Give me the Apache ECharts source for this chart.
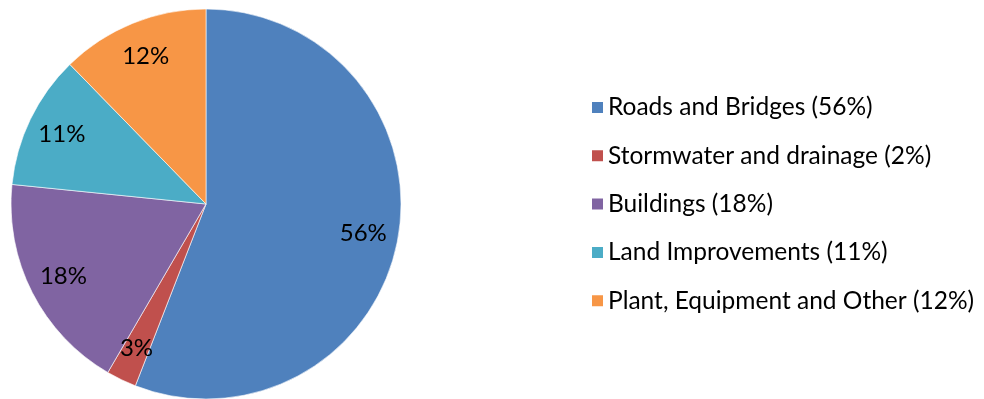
<!DOCTYPE html>
<html>
<head>
<meta charset="utf-8">
<script src="https://cdn.jsdelivr.net/npm/echarts@6/dist/echarts.min.js"></script>
<style>
  html, body { margin: 0; padding: 0; background: #fff; }
  #chart { width: 984px; height: 399px; }
</style>
</head>
<body>
<div id="chart"></div>
<script>
// Asset categories (legend text) and their share of total value
const categories = [
  'Roads and Bridges (56%)',
  'Stormwater and drainage (2%)',
  'Buildings (18%)',
  'Land Improvements (11%)',
  'Plant, Equipment and Other (12%)'
];
const shares = [55.9, 2.5, 18.2, 11.1, 12.3];
const colors = ['#4F81BD', '#C0504D', '#8064A2', '#4BACC6', '#F79646'];

const FONT = 'Lato, "Open Sans", sans-serif';
const center = [206, 204];
const outerR = 195;

const chart = echarts.init(document.getElementById('chart'), null, { renderer: 'canvas' });

chart.setOption({
  animation: false,
  color: colors,
  legend: {
    orient: 'vertical',
    left: 585,
    top: 90,
    data: categories,
    icon: 'rect',
    itemWidth: 13,
    itemHeight: 13,
    itemGap: 23.3,
    textStyle: { fontFamily: FONT, fontSize: 24.5, color: '#000', lineHeight: 25, padding: [0, 0, 0, -1] },
    selectedMode: false
  },
  series: [
    {
      // the pie itself
      type: 'pie',
      center: center,
      radius: [0, outerR],
      startAngle: 90,
      clockwise: true,
      avoidLabelOverlap: false,
      label: { show: false },
      labelLine: { show: false },
      itemStyle: { borderColor: '#fff', borderWidth: 0.6 },
      emphasis: { disabled: true },
      data: categories.map((name, i) => ({ name: name, value: shares[i] }))
    },
    {
      // transparent ring carrying the percentage labels near the rim
      type: 'pie',
      center: center,
      radius: [119, outerR],
      startAngle: 90,
      clockwise: true,
      silent: true,
      avoidLabelOverlap: false,
      itemStyle: { color: 'rgba(0,0,0,0)' },
      label: {
        show: true,
        position: 'inside',
        fontFamily: FONT,
        fontSize: 24,
        color: '#000',
        formatter: p => Math.round(p.percent) + '%'
      },
      labelLine: { show: false },
      emphasis: { disabled: true },
      data: shares.map(v => ({ value: v }))
    }
  ]
});
</script>
</body>
</html>
